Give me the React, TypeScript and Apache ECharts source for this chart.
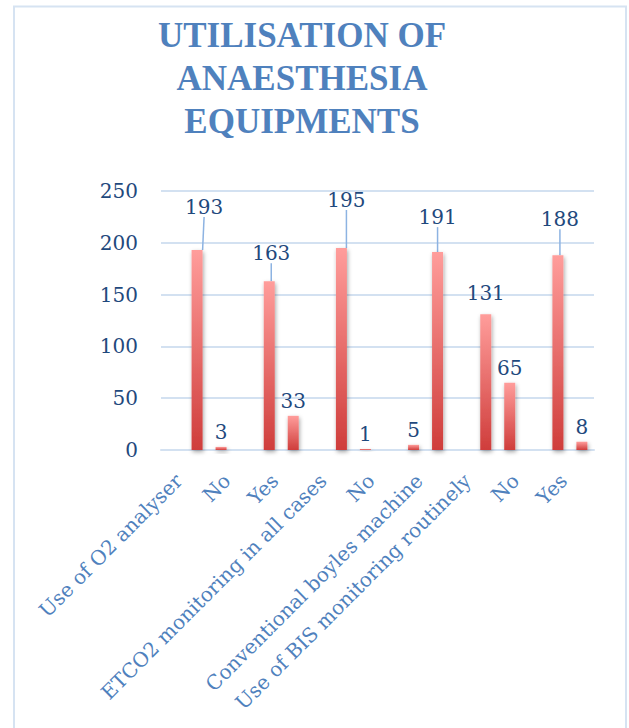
import React, { useEffect, useRef } from "react";
import * as echarts from "echarts";

const groups = ["G1", "G2", "G3", "G4", "G5", "G6"];
const tickLabels = [
  "Use of O2 analyser",
  "No",
  "Yes",
  "ETCO2 monitoring in all cases",
  "No",
  "Conventional boyles machine",
  "Use of BIS monitoring routinely",
  "No",
  "Yes",
];
const seriesA = [193, 163, 195, 5, 131, 188];
const seriesB = [3, 33, 1, 191, 65, 8];
const yTicks = { min: 0, max: 250, interval: 50 };
const titleLines = ["UTILISATION OF", "ANAESTHESIA", "EQUIPMENTS"];

// label shifts (style only): "seriesIndex-dataIndex" -> [dx, dy, withLeaderLine]
const labelShift: Record<string, [number, number, boolean]> = {
  "1-0": [7, -28, true],
  "1-1": [2, -13, true],
  "1-2": [5, -33, true],
  "1-4": [0, -6, false],
  "1-5": [2, -21, true],
  "2-3": [0, -20, true],
};

const FONT = "'DejaVu Serif', serif";

export default function App() {
  const ref = useRef<HTMLDivElement>(null);
  useEffect(() => {
    if (!ref.current) return;
    const chart = echarts.init(ref.current, null, { renderer: "svg" });
    const grad = () =>
      new echarts.graphic.LinearGradient(0, 0, 0, 1, [
        { offset: 0, color: "#ff9d9b" },
        { offset: 1, color: "#cf3d3b" },
      ]);
    const toItems = (vals: number[], si: number) =>
      vals.map((v, i) => {
        const s = labelShift[`${si}-${i}`];
        return s && s[2] ? { value: v, labelLine: { show: true } } : { value: v };
      });
    const barCommon = {
      type: "bar",
      xAxisIndex: 0,
      yAxisIndex: 0,
      barWidth: 11,
      barGap: "118%",
      itemStyle: {
        color: grad(),
        shadowColor: "rgba(0,0,0,0.35)",
        shadowBlur: 4,
        shadowOffsetX: 1,
        shadowOffsetY: 2,
      },
      label: {
        show: true,
        position: "top",
        distance: 5,
        color: "#1f497d",
        fontFamily: FONT,
        fontSize: 20,
      },
      labelLine: {
        show: false,
        lineStyle: { color: "#8db3e2", width: 1.5 },
      },
      labelLayout: (p: any) => {
        const s = labelShift[`${p.seriesIndex}-${p.dataIndex}`];
        return s ? { dx: s[0], dy: s[1] } : {};
      },
    };
    chart.setOption({
      animation: false,
      backgroundColor: "#ffffff",
      grid: { left: 161, right: 35, top: 191, bottom: 278, containLabel: false },
      xAxis: [
        {
          type: "category",
          data: groups,
          axisLabel: { show: false },
          axisTick: { show: false },
          axisLine: { show: true, lineStyle: { color: "#d3e1f1", width: 2 } },
        },
        {
          type: "category",
          data: tickLabels,
          position: "bottom",
          axisLine: { show: false },
          axisTick: { show: false },
          splitLine: { show: false },
          axisLabel: {
            show: true,
            interval: 0,
            rotate: 45,
            margin: 21,
            padding: [0, 9, 17, 0],
            color: "#4f81bd",
            fontFamily: FONT,
            fontSize: 20,
          },
        },
      ],
      yAxis: {
        type: "value",
        min: yTicks.min,
        max: yTicks.max,
        interval: yTicks.interval,
        axisLine: { show: false },
        axisTick: { show: false },
        splitLine: { lineStyle: { color: "#d3e1f1", width: 2 } },
        axisLabel: {
          margin: 23,
          color: "#1f497d",
          fontFamily: FONT,
          fontSize: 20,
        },
      },
      series: [
        { ...barCommon, name: "blank", data: [] },
        { ...barCommon, name: "A", data: toItems(seriesA, 1) },
        { ...barCommon, name: "B", data: toItems(seriesB, 2) },
      ],
      graphic: [
        {
          type: "rect",
          shape: { x: 14, y: 6.5, width: 612, height: 740 },
          style: { fill: "none", stroke: "#d6e3f2", lineWidth: 2 },
          silent: true,
        },
        {
          type: "text",
          x: 302,
          y: 14,
          style: {
            text: titleLines.join("\n"),
            textAlign: "center",
            textVerticalAlign: "top",
            fill: "#4f81bd",
            font: "bold 35px 'Liberation Serif', serif",
            lineHeight: 43,
          },
        },
      ],
    });
    return () => chart.dispose();
  }, []);
  return (
    <div
      ref={ref}
      style={{ position: "absolute", left: 0, top: 0, width: 629, height: 728, background: "#fff" }}
    />
  );
}
